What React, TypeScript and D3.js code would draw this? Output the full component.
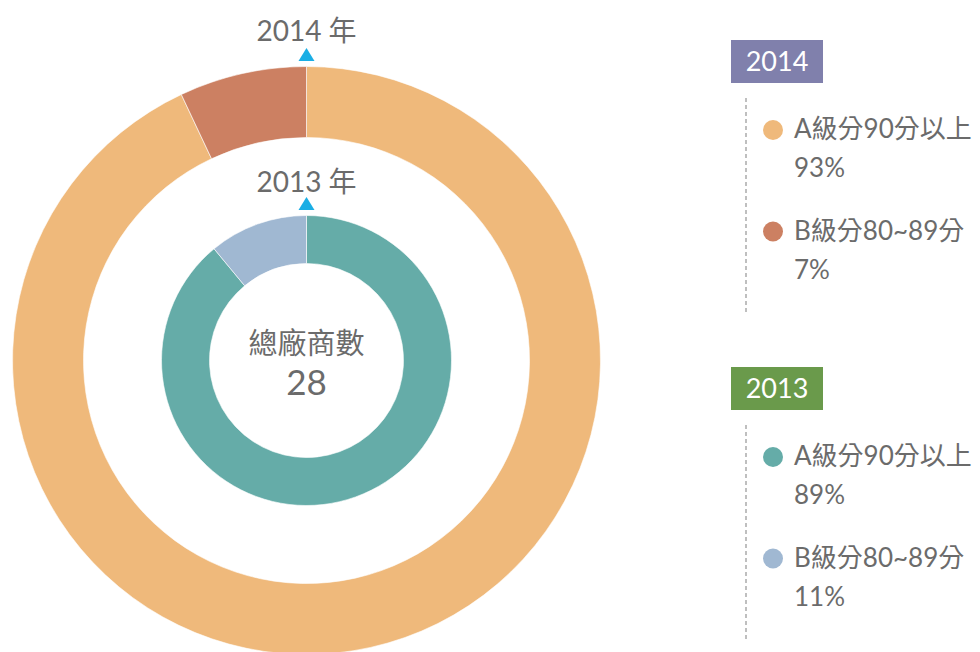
import React from "react";
import * as d3 from "d3";

const grades = ["A級分90分以上", "B級分80~89分"];
const years = ["2014", "2013"];
const values2014 = [93, 7];
const values2013 = [89, 11];
const totalLabel = "總廠商數";
const totalVendors = 28;

const colors2014 = ["#EFB97B", "#CC8062"];
const colors2013 = ["#65ACA8", "#A0B8D2"];
const yearBoxColors = ["#8080AC", "#6A9A4B"];

const FONT = "'Lato', 'Noto Sans CJK TC', sans-serif";
const TEXT = "#6b6b6b";

export default function App() {
  const cx = 306.5;
  const cy = 360.5;
  const pie = d3.pie<number>().sort(null).value((d) => d);
  const outerArc = d3.arc<d3.PieArcDatum<number>>().innerRadius(223).outerRadius(294);
  const innerArc = d3.arc<d3.PieArcDatum<number>>().innerRadius(97).outerRadius(145);
  const outer = pie(values2014);
  const inner = pie(values2013);

  const legends = [
    { year: years[0], values: values2014, colors: colors2014, boxTop: 40, box: yearBoxColors[0] },
    { year: years[1], values: values2013, colors: colors2013, boxTop: 367, box: yearBoxColors[1] },
  ];

  const tri = (y: number) => `M${cx},${y} L${cx + 8},${y + 13} L${cx - 8},${y + 13} Z`;

  return (
    <div style={{ position: "absolute", left: 0, top: 0 }}>
      <svg width={980} height={652} style={{ display: "block", fontFamily: FONT }}>
        <rect width={980} height={652} fill="#fff" />
        <g transform={`translate(${cx},${cy})`}>
          {outer.map((d, i) => (
            <path key={"o" + i} d={outerArc(d) || ""} fill={colors2014[i]} stroke="#fff" strokeWidth={0.6} />
          ))}
          {inner.map((d, i) => (
            <path key={"i" + i} d={innerArc(d) || ""} fill={colors2013[i]} stroke="#fff" strokeWidth={0.6} />
          ))}
          <text y={-7} textAnchor="middle" fontSize={29} fill={TEXT}>{totalLabel}</text>
          <text y={34} textAnchor="middle" fontSize={35} fill={TEXT}>{totalVendors}</text>
        </g>
        <text x={cx} y={41} textAnchor="middle" fontSize={28} fill={TEXT}>{years[0]} 年</text>
        <path d={tri(48)} fill="#1AAEE5" />
        <text x={cx} y={192} textAnchor="middle" fontSize={28} fill={TEXT}>{years[1]} 年</text>
        <path d={tri(197)} fill="#1AAEE5" />

        {legends.map((lg, li) => {
          const t = lg.boxTop;
          return (
            <g key={"lg" + li}>
              <rect x={731} y={t} width={92} height={43} fill={lg.box} />
              <text x={777} y={t + 31} textAnchor="middle" fontSize={27} fill="#fff">{lg.year}</text>
              <line x1={746} x2={746} y1={t + 58} y2={t + 272} stroke="#aaa" strokeWidth={1.5} strokeDasharray="4 3" />
              {lg.values.map((v, i) => {
                const by = t + 90 + i * 101.5;
                return (
                  <g key={i}>
                    <circle cx={773} cy={by} r={10} fill={lg.colors[i]} />
                    <text x={794} y={by + 8} fontSize={26} fill={TEXT}>{grades[i]}</text>
                    <text x={794} y={by + 47} fontSize={26} fill={TEXT}>{v}%</text>
                  </g>
                );
              })}
            </g>
          );
        })}
      </svg>
    </div>
  );
}
